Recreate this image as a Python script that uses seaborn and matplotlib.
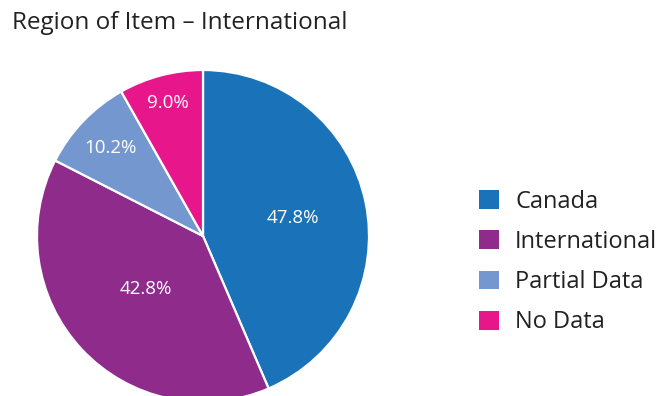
import numpy as np
import matplotlib
matplotlib.use("Agg")
import matplotlib.pyplot as plt
import seaborn as sns
from matplotlib.patches import Patch

categories = ["Canada", "International", "Partial Data", "No Data"]
values = [47.8, 42.8, 10.2, 9.0]
colors = ["#1a72b9", "#8e2b8b", "#7597cf", "#e8168b"]
label_radius = [0.55, 0.47, 0.77, 0.83]

sns.set_theme(style="white")
plt.rcParams['font.family'] = ['Open Sans', 'DejaVu Sans']

fig = plt.figure(figsize=(6.58, 3.96), dpi=100)
cx, cy, r = 203, 236, 166
W, H = 658, 396
ax = fig.add_axes([(cx - r) / W, (H - cy - r) / H, 2 * r / W, 2 * r / H])
wedges, _ = ax.pie(values, colors=colors, startangle=90, counterclock=False,
                   wedgeprops=dict(edgecolor="white", linewidth=1.6))
ax.set_xlim(-1, 1)
ax.set_ylim(-1, 1)
ax.set_aspect("auto")
ax.axis("off")

for w, v, lr in zip(wedges, values, label_radius):
    ang = np.deg2rad((w.theta1 + w.theta2) / 2)
    ax.text(lr * np.cos(ang), lr * np.sin(ang), f"{v:.1f}%", color="white",
            ha="center", va="center", fontsize=13.5)

fig.text(12 / W, 1 - 23 / H, "Region of Item – International", fontsize=17.5,
         color="#222222", ha="left", va="center")

handles = [Patch(facecolor=c, edgecolor="none") for c in colors]
fig.legend(handles, categories, loc="center left",
           bbox_to_anchor=(479 / W, 1 - 262 / H), frameon=False,
           fontsize=17, handlelength=0.85, handleheight=0.85, handletextpad=0.68,
           labelspacing=0.69, borderpad=0, borderaxespad=0, labelcolor="#222222")

fig.savefig("out.png", dpi=100)
